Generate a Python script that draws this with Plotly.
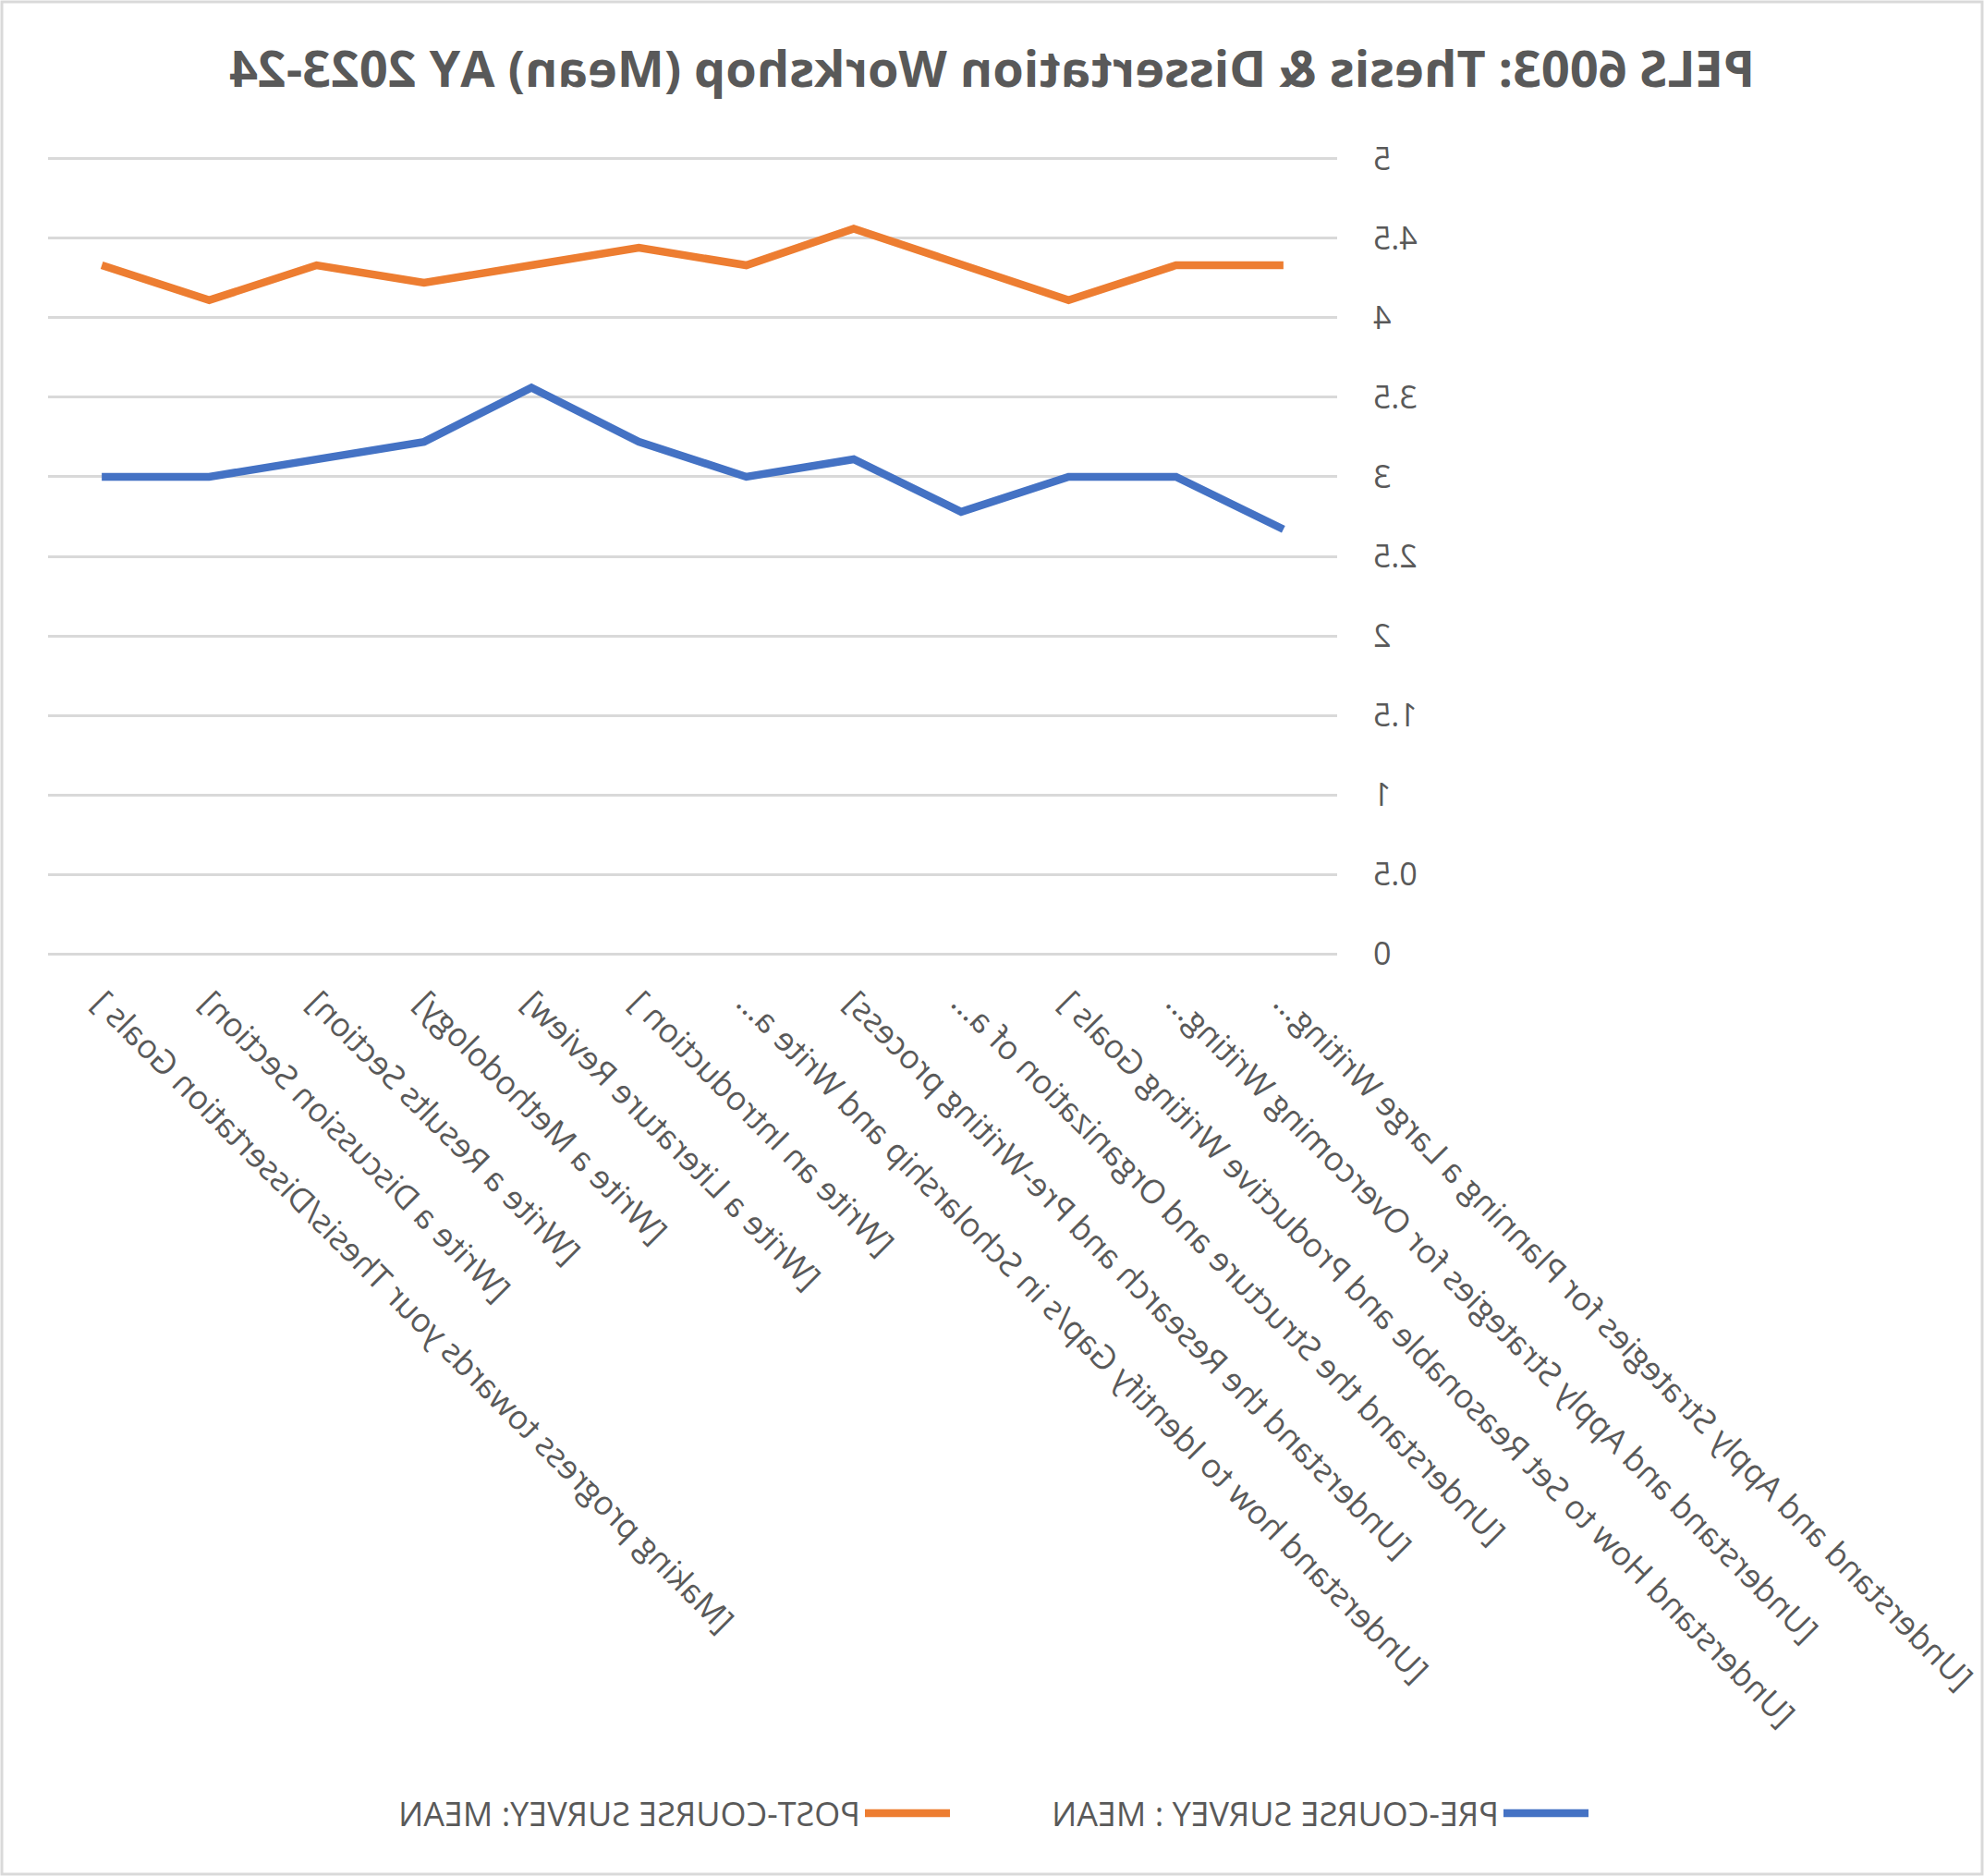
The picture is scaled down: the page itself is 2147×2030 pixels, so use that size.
import plotly.graph_objects as go

categories = [
    "[Understand and Apply Strategies for Planning a Large Writing…",
    "[Understand and Apply Strategies for Overcoming Writing…",
    "[Understand How to Set Reasonable and Productive Writing Goals ]",
    "[Understand the Structure and Organization of a…",
    "[Understand the Research and Pre-Writing process]",
    "[Understand how to Identify Gap/s in Scholarship and Write a…",
    "[Write an Introduction ]",
    "[Write a Literature Review]",
    "[Write a Methodology]",
    "[Write a Results Section]",
    "[Write a Discussion Section]",
    "[Making progress towards your Thesis/Dissertation Goals ]",
]
pre_mean = [2.67, 3.0, 3.0, 2.78, 3.11, 3.0, 3.22, 3.56, 3.22, 3.11, 3.0, 3.0]
post_mean = [4.33, 4.33, 4.11, 4.33, 4.56, 4.33, 4.44, 4.33, 4.22, 4.33, 4.11, 4.33]
y_ticks = [0, 0.5, 1, 1.5, 2, 2.5, 3, 3.5, 4, 4.5, 5]
y_tick_text = ["0", "0.5", "1", "1.5", "2", "2.5", "3", "3.5", "4", "4.5", "5"]
series_names = ["PRE-COURSE SURVEY : MEAN", "POST-COURSE SURVEY: MEAN"]
title_text = "PELS 6003: Thesis & Dissertation Workshop (Mean) AY 2023-24"

W, H = 2147, 2030
ML, MR, MT, MB = 700, 52, 170, 996
PW = W - ML - MR
PH = H - MT - MB
GRAY = "#595959"
FONT = "Open Sans, Noto Sans, sans-serif"

fig = go.Figure()
fig.add_trace(go.Scatter(x=categories, y=pre_mean, mode="lines", name=series_names[0],
                         line=dict(color="#4472C4", width=8.5)))
fig.add_trace(go.Scatter(x=categories, y=post_mean, mode="lines", name=series_names[1],
                         line=dict(color="#ED7D31", width=8.5)))

# outer light border around the whole chart area
inset = 2
fig.add_shape(type="rect", xref="paper", yref="paper",
              x0=(-ML + inset) / PW, x1=(W - ML - inset) / PW,
              y0=(-MB + inset) / PH, y1=1 + (MT - inset) / PH,
              line=dict(color="#D9D9D9", width=3), fillcolor="rgba(0,0,0,0)", layer="below")

fig.update_layout(
    width=W, height=H,
    margin=dict(l=ML, r=MR, t=MT, b=MB, autoexpand=False),
    paper_bgcolor="white", plot_bgcolor="white",
    title=dict(text="<b>" + title_text + "</b>", x=0.5, xref="container", xanchor="center",
               y=1 - 75 / H, yref="container", yanchor="middle",
               font=dict(family=FONT, size=54, color=GRAY)),
    font=dict(family=FONT, color=GRAY),
    showlegend=True,
    legend=dict(orientation="h", xref="container", yref="container",
                x=423 / W, xanchor="left", y=1 - 1962 / H, yanchor="middle",
                font=dict(family=FONT, size=36, color=GRAY),
                itemwidth=92, entrywidth=584, entrywidthmode="pixels",
                bgcolor="rgba(0,0,0,0)"),
    xaxis=dict(type="category", range=[-0.5, len(categories) - 0.5],
               showgrid=False, zeroline=False, showline=False,
               ticks="", tickangle=-45, automargin=False, ticklabelstandoff=22,
               tickfont=dict(family=FONT, size=35.5, color=GRAY), fixedrange=True),
    yaxis=dict(range=[-0.01, 5.01], tickvals=y_ticks, ticktext=y_tick_text, showgrid=True,
               gridcolor="#D9D9D9", gridwidth=3, zeroline=False, showline=False,
               ticks="", automargin=False, ticklabelstandoff=38,
               tickfont=dict(family=FONT, size=34, color=GRAY), fixedrange=True),
)

post_script = (
    "document.documentElement.style.margin='0';"
    "document.body.style.margin='0';"
    "document.body.style.overflow='hidden';"
    "var gd=document.getElementById('{plot_id}');"
    "gd.style.transform='scaleX(-1)';"
    "gd.style.transformOrigin='center center';"
)

fig.write_html("out.html", config={"displayModeBar": False, "staticPlot": True},
               post_script=post_script)
